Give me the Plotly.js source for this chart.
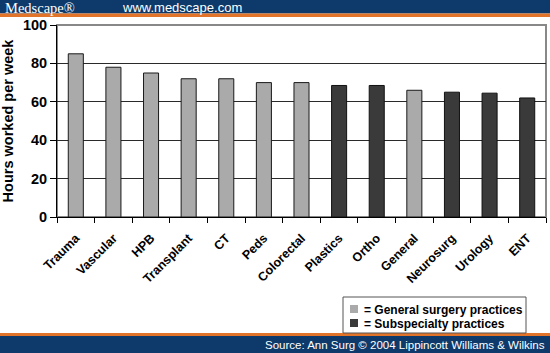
<!DOCTYPE html>
<html>
<head>
<meta charset="utf-8">
<script src="https://cdn.plot.ly/plotly-3.0.1.min.js"></script>
<style>html,body{margin:0;padding:0;background:#fff}#chart{width:550px;height:353px}</style>
</head>
<body>
<div id="chart"></div>
<script>
var categories = ["Trauma","Vascular","HPB","Transplant","CT","Peds","Colorectal","Plastics","Ortho","General","Neurosurg","Urology","ENT"];
var hours = [85, 78, 75, 72, 72, 70, 70, 68.5, 68.5, 66, 65, 64.5, 62];
var groups = ["general","general","general","general","general","general","general","sub","sub","general","sub","sub","sub"];
var yTicks = [0, 20, 40, 60, 80, 100];
var legendNames = ["= General surgery practices", "= Subspecialty practices"];
var headerBrand = "Medscape®";
var headerUrl = "www.medscape.com";
var footerSource = "Source: Ann Surg © 2004 Lippincott Williams & Wilkins";
var yTitle = "Hours worked per week";

var W = 550, H = 353, L = 57, R = 546, T = 25, B = 217;
function xp(px){ return (px - L) / (R - L); }
function yp(py){ return (B - py) / (B - T); }

function pick(g){
  return {
    x: categories.filter(function(c,i){ return groups[i] === g; }),
    y: hours.filter(function(v,i){ return groups[i] === g; })
  };
}
var gen = pick("general"), sub = pick("sub");
var navy = "#0d3a6b", orange = "#e2742a";
var lightBar = "#aaaaaa", darkBar = "#3a3a3a";

var traces = [
  {type:"bar", x:gen.x, y:gen.y, name:legendNames[0],
   marker:{color:lightBar, line:{color:"#1a1a1a", width:1}}},
  {type:"bar", x:sub.x, y:sub.y, name:legendNames[1],
   marker:{color:darkBar, line:{color:"#111", width:1}}}
];

var boldFont = function(sz){ return {size: sz, family: "Liberation Sans, Arial, sans-serif", color: "#000", weight: "bold"}; };

var layout = {
  width: W, height: H,
  margin: {l: L, r: W - R, t: T, b: H - B, pad: 0},
  paper_bgcolor: "#fff", plot_bgcolor: "#fff",
  barmode: "overlay", bargap: 0.6,
  font: {family: "Liberation Sans, Arial, sans-serif", color: "#000"},
  showlegend: false,
  xaxis: {
    type: "category", categoryorder: "array", categoryarray: categories,
    range: [-0.5, categories.length - 0.5],
    showline: true, linecolor: "#000", linewidth: 1,
    ticks: "outside", tickson: "boundaries", ticklen: 5, tickcolor: "#000",
    tickangle: -45, tickfont: boldFont(12.5), ticklabelstandoff: 8,
    showgrid: false, automargin: false, fixedrange: true
  },
  yaxis: {
    range: [0, 100], tickvals: yTicks,
    showline: true, linecolor: "#000", linewidth: 1,
    ticks: "outside", ticklen: 6, tickcolor: "#000",
    tickfont: boldFont(14.5),
    showgrid: true, gridcolor: "#2a2a2a", gridwidth: 1, zeroline: false,
    title: {text: yTitle, font: boldFont(14.5), standoff: 8},
    automargin: false, fixedrange: true
  },
  shapes: [
    {type:"rect", xref:"paper", yref:"paper", x0:0, x1:1, y0:0, y1:1, line:{color:"#888", width:2}, layer:"below"},
    {type:"rect", xref:"paper", yref:"paper", x0:xp(0), x1:xp(W), y0:yp(13.5), y1:yp(0), fillcolor:navy, line:{width:0}},
    {type:"rect", xref:"paper", yref:"paper", x0:xp(0), x1:xp(W), y0:yp(17), y1:yp(13.5), fillcolor:orange, line:{width:0}},
    {type:"rect", xref:"paper", yref:"paper", x0:xp(0), x1:xp(W), y0:yp(336), y1:yp(333), fillcolor:orange, line:{width:0}},
    {type:"rect", xref:"paper", yref:"paper", x0:xp(0), x1:xp(W), y0:yp(H), y1:yp(336), fillcolor:navy, line:{width:0}},
    {type:"rect", xref:"paper", yref:"paper", x0:xp(343), x1:xp(526), y0:yp(333), y1:yp(297), fillcolor:"#fff", line:{color:"#555", width:1}},
    {type:"rect", xref:"paper", yref:"paper", x0:xp(350), x1:xp(358), y0:yp(313), y1:yp(305), fillcolor:lightBar, line:{width:0}},
    {type:"rect", xref:"paper", yref:"paper", x0:xp(350), x1:xp(358), y0:yp(327), y1:yp(319), fillcolor:darkBar, line:{width:0}}
  ],
  annotations: [
    {xref:"paper", yref:"paper", x:xp(3), y:yp(7.5), xanchor:"left", yanchor:"middle", showarrow:false,
     text: headerBrand, font:{family:"Liberation Serif, Times New Roman, serif", size:14.5, color:"#fff"}},
    {xref:"paper", yref:"paper", x:xp(120), y:yp(7.5), xanchor:"left", yanchor:"middle", showarrow:false,
     text: headerUrl, font:{family:"Liberation Sans, Arial", size:13, color:"#fff"}},
    {xref:"paper", yref:"paper", x:xp(547), y:yp(345), xanchor:"right", yanchor:"middle", showarrow:false,
     text: footerSource, font:{family:"Liberation Sans, Arial", size:11.5, color:"#fff"}},
    {xref:"paper", yref:"paper", x:xp(362), y:yp(309.5), xanchor:"left", yanchor:"middle", showarrow:false,
     text: legendNames[0], font: boldFont(12)},
    {xref:"paper", yref:"paper", x:xp(362), y:yp(323.5), xanchor:"left", yanchor:"middle", showarrow:false,
     text: legendNames[1], font: boldFont(12)}
  ]
};

Plotly.newPlot("chart", traces, layout, {displayModeBar: false, staticPlot: true});
</script>
</body>
</html>
